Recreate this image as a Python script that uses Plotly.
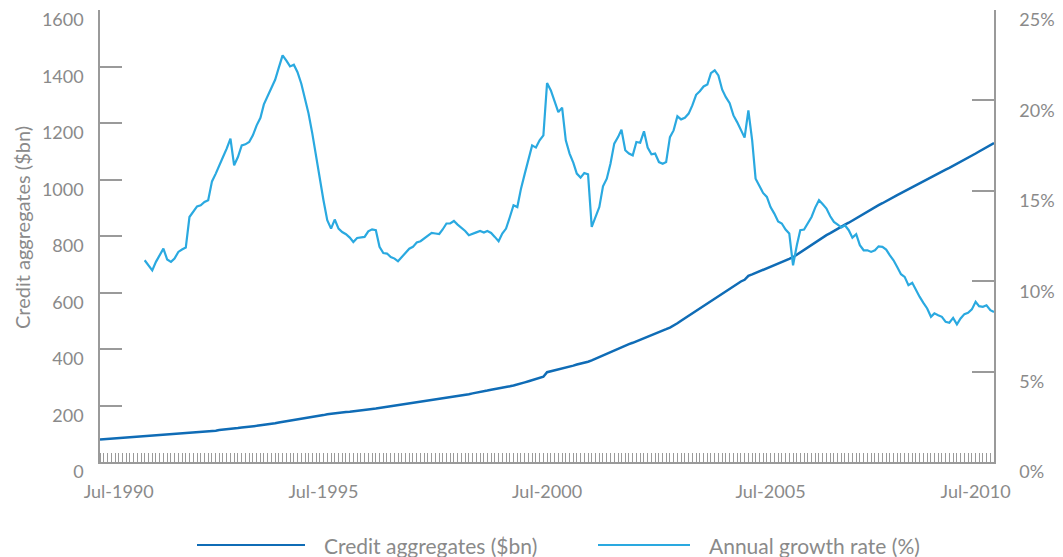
import pandas as pd
import plotly.graph_objects as go

# ---- data ----
credit_start = "1990-07-01"
credit_bn = [
    80, 81, 82, 83, 84, 85, 85, 86, 87, 88, 89, 90, 91, 92, 92, 93, 94, 95, 96, 97, 98, 99, 100, 101, 102, 103,
    104, 105, 107, 108, 110, 111, 113, 114, 116, 117, 119, 120, 122, 123, 125, 126, 128, 130,
    131, 133, 135, 137, 140, 142, 144, 146, 148, 150, 153, 155, 157, 159, 161, 164, 166, 169,
    171, 172, 174, 175, 177, 178, 180, 182, 183, 185, 186, 188, 189, 191, 193, 194, 196, 197,
    199, 201, 203, 205, 207, 209, 211, 213, 215, 218, 220, 222, 224, 226, 228, 230, 233, 235,
    238, 240, 243, 245, 248, 250, 253, 256, 258, 261, 263, 266, 268, 271, 274,
    278, 282, 286, 290, 294, 298, 302,
    318, 321, 324, 328, 331, 334, 338, 341, 345, 348, 351, 355,
    360, 366, 372, 378, 384, 390, 396, 402,
    406, 411, 417, 422, 427, 433, 438, 443, 449, 454, 459, 465, 470, 476,
    482, 491, 500, 509, 517, 526, 535, 544, 553, 562, 571,
    579, 588, 596, 605, 614, 622, 631, 639, 645,
    659, 664, 669, 674, 679, 684, 689,
    695, 701, 707, 713, 719, 725,
    734, 743, 752, 761, 770, 779, 788,
    796, 803, 810, 818, 825, 833, 840, 847, 855,
    863, 871, 878, 886, 893, 901, 909, 916, 924,
    931, 938, 945, 952, 959, 966, 973, 980, 987, 994, 1001,
    1008, 1015, 1021, 1028, 1035, 1041, 1048,
    1055, 1063, 1070, 1077, 1085, 1092, 1099, 1107, 1114, 1121, 1129,
]

growth_start = "1991-07-01"
growth_pct = [
    11.16, 10.88, 10.6, 11.07, 11.44, 11.8, 11.2, 11.07, 11.25, 11.62, 11.75, 11.86,
    13.55, 13.87, 14.14, 14.2, 14.38, 14.48, 15.52, 15.95, 16.35, 16.87, 17.33, 17.88,
    16.41, 16.87, 17.51, 17.57, 17.7, 18.07, 18.62, 19.04, 19.78, 20.22, 20.65, 21.14,
    21.81, 22.49, 22.2, 21.88, 21.97, 21.56, 20.92, 20.09, 19.27, 18.16, 16.87, 15.58,
    14.48, 13.37, 12.91, 13.41, 12.91, 12.72, 12.6, 12.41, 12.17, 12.39, 12.41, 12.45,
    12.76, 12.87, 12.82, 11.9, 11.56, 11.53, 11.34, 11.25, 11.1, 11.34, 11.62, 11.8,
    11.9, 12.14, 12.21, 12.36, 12.54, 12.67, 12.64, 12.61, 12.86, 13.19, 13.19, 13.33,
    13.13, 12.97, 12.78, 12.54, 12.6, 12.7, 12.78, 12.69, 12.78, 12.67, 12.45, 12.21,
    12.64, 12.91, 13.55, 14.2, 14.1, 15.12, 15.95, 16.78, 17.51, 17.39, 17.79, 18.07,
    20.96, 20.55, 19.91, 19.35, 19.6, 17.79, 17.06, 16.54, 15.95, 15.73, 15.98, 15.91,
    13.0, 13.55, 14.1, 15.25, 15.67, 16.5, 17.61, 17.97, 18.38, 17.24, 17.06, 16.96,
    17.7, 17.66, 18.29, 17.39, 17.02, 17.06, 16.59, 16.5, 16.59, 17.97, 18.34, 19.12,
    18.95, 19.04, 19.27, 19.72, 20.31, 20.51, 20.77, 20.88, 21.51, 21.66, 21.38, 20.59,
    20.18, 19.85, 19.17, 18.8, 18.38, 17.94, 19.45, 17.79, 15.67, 15.25, 14.88, 14.66,
    14.1, 13.74, 13.3, 13.19, 12.86, 12.64, 10.88, 11.99, 12.82, 12.86, 13.22, 13.55,
    14.07, 14.48, 14.25, 14.02, 13.59, 13.28, 13.13, 12.97, 13.09, 12.82, 12.41, 12.6,
    11.99, 11.71, 11.71, 11.62, 11.71, 11.93, 11.9, 11.75, 11.44, 11.16, 10.79, 10.39,
    10.24, 9.78, 9.91, 9.5, 9.13, 8.8, 8.49, 8.03, 8.22, 8.12, 8.03, 7.75,
    7.7, 7.97, 7.61, 7.94, 8.18, 8.25, 8.44, 8.86, 8.62, 8.58, 8.67, 8.4,
    8.3,
]

x_tick_labels = ["Jul-1990", "Jul-1995", "Jul-2000", "Jul-2005", "Jul-2010"]
left_ticks = [0, 200, 400, 600, 800, 1000, 1200, 1400, 1600]
right_ticks = [0, 5, 10, 15, 20, 25]
right_tick_labels = ["0%", "5%", "10%", "15%", "20%", "25%"]
series_names = ["Credit aggregates ($bn)", "Annual growth rate (%)"]
y_title = "Credit aggregates ($bn)"

credit_dates = pd.date_range(credit_start, periods=len(credit_bn), freq="MS")
growth_dates = pd.date_range(growth_start, periods=len(growth_pct), freq="MS")

DARK = "#0f6cb6"
LIGHT = "#2aa9e0"
GREY = "#8a8a8a"
AXIS = "#9a9a9a"
FONT = "Lato"
FS = 18

fig = go.Figure()
fig.add_trace(go.Scatter(x=credit_dates, y=credit_bn, name=series_names[0], mode="lines",
                         line=dict(color=DARK, width=2.5), showlegend=False))
fig.add_trace(go.Scatter(x=growth_dates, y=growth_pct, name=series_names[1], mode="lines",
                         line=dict(color=LIGHT, width=2.2), yaxis="y2", showlegend=False))

# edge labels nudged inwards like the reference
label_pos = ["1990-12-01", "1995-07-01", "2000-07-01", "2005-07-01", "2010-02-01"]

# page body has an 8px margin, so the figure is drawn 8px smaller and offset
fig.update_layout(
    width=1055, height=549,
    margin=dict(l=92, r=69, t=2, b=95, autoexpand=False),
    paper_bgcolor="white", plot_bgcolor="white",
    font=dict(family=FONT, color=GREY, size=FS),
    xaxis=dict(
        type="date", range=[credit_dates[0], credit_dates[-1]], automargin=False,
        tickmode="array", tickvals=label_pos, ticktext=x_tick_labels,
        ticks="", showgrid=False, zeroline=False,
        showline=True, linecolor=AXIS, linewidth=1.5,
        ticklabelstandoff=13, ticklabeloverflow="allow",
        tickfont=dict(size=FS, color=GREY),
        minor=dict(ticks="inside", ticklen=9, tickcolor=AXIS, tickwidth=1,
                   dtick="M1", tick0=credit_start, showgrid=False),
    ),
    yaxis=dict(
        range=[0, 1600], tickmode="array", tickvals=left_ticks, automargin=False,
        ticks="inside", ticklen=22, tickcolor=AXIS, tickwidth=1.5,
        showgrid=False, zeroline=False, showline=True, linecolor=AXIS, linewidth=1.5,
        ticklabelshift=10, ticklabelstandoff=11, ticklabeloverflow="allow",
        tickfont=dict(size=FS, color=GREY),
    ),
    yaxis2=dict(
        range=[0, 25], overlaying="y", side="right", tickmode="array", automargin=False,
        tickvals=right_ticks, ticktext=right_tick_labels,
        ticks="inside", ticklen=22, tickcolor=AXIS, tickwidth=1.5,
        showgrid=False, zeroline=False, showline=True, linecolor=AXIS, linewidth=1.5,
        ticklabelshift=10, ticklabelstandoff=20, ticklabeloverflow="allow",
        tickfont=dict(size=FS, color=GREY),
    ),
)

# positions in plot-area fractions (plot area is 894 x 452 px)
def px_x(p):
    return (p - 100) / 894.0

def px_y(p):
    return (462 - p) / 452.0

fig.add_annotation(xref="paper", yref="paper", x=px_x(22), y=px_y(228), text=y_title,
                   textangle=-90, showarrow=False, xanchor="center", yanchor="middle",
                   font=dict(size=20, color=GREY, family=FONT))

# manual legend with long line samples
ly = px_y(545)
for (x0, x1, tx, col, name) in [(197, 305, 322, DARK, series_names[0]),
                                (598, 690, 707, LIGHT, series_names[1])]:
    fig.add_shape(type="line", xref="paper", yref="paper", x0=px_x(x0), x1=px_x(x1),
                  y0=ly, y1=ly, line=dict(color=col, width=2.2))
    fig.add_annotation(xref="paper", yref="paper", x=px_x(tx), y=ly, text=name,
                       showarrow=False, xanchor="left", yanchor="middle",
                       font=dict(size=21, color=GREY, family=FONT))

fig.write_html("out.html")
